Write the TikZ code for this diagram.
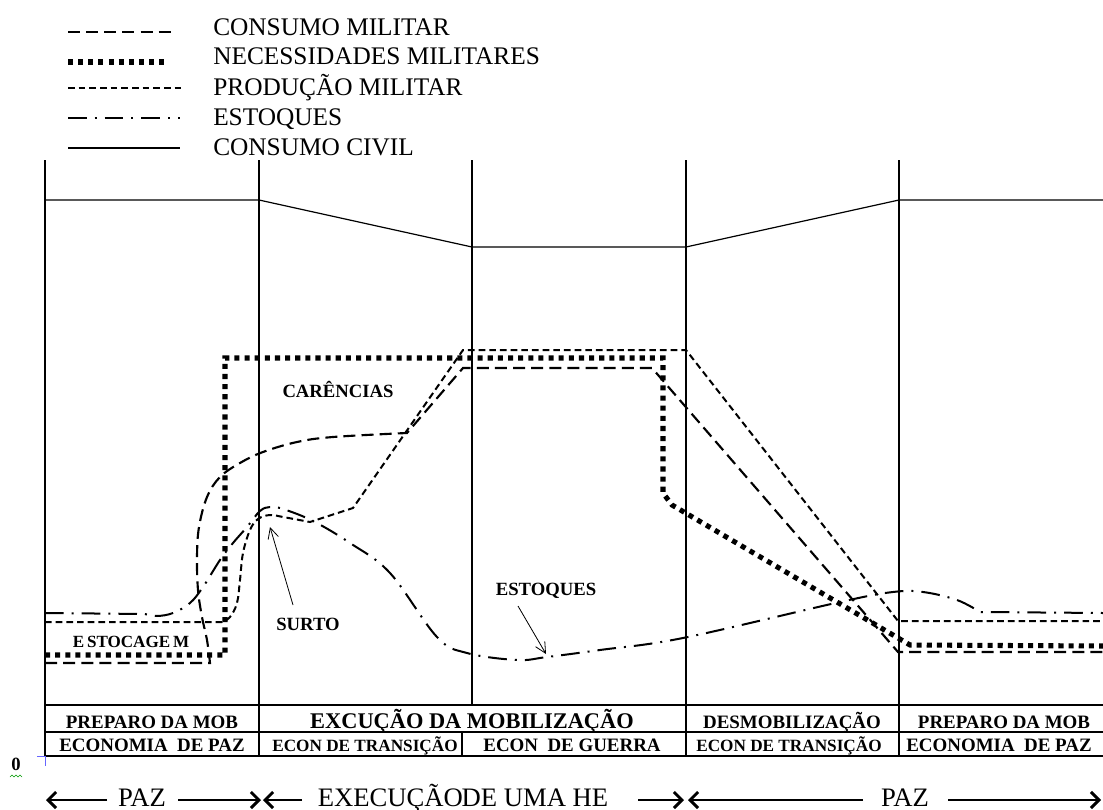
\documentclass[tikz,border=0pt]{standalone}
\usepackage{fontspec}
\setmainfont{Liberation Serif}
\usetikzlibrary{arrows.meta}
\tikzset{
 civ/.style={line width=0.9pt},
 cmil/.style={line width=1.6pt, dash pattern=on 9pt off 4.6pt},
 nec/.style={line width=3.8pt, dash pattern=on 3.8pt off 3.8pt},
 prod/.style={line width=1.5pt, dash pattern=on 5pt off 3pt},
 est/.style={line width=1.5pt, dash pattern=on 14pt off 6pt on 1.5pt off 6pt},
 gridline/.style={line width=0.8pt},
 leg/.style={anchor=base west, font=\fontsize{19}{21}\selectfont, inner sep=0pt},
 lbl/.style={anchor=base, font=\bfseries\fontsize{14}{16}\selectfont, inner sep=0pt},
 tb/.style={anchor=base, font=\bfseries\fontsize{14.2}{16}\selectfont, inner sep=0pt},
 tbbig/.style={anchor=base, font=\bfseries\fontsize{16.8}{18}\selectfont, inner sep=0pt},
 bot/.style={anchor=base, font=\fontsize{20}{22}\selectfont, inner sep=0pt},
 bigarr/.style={line width=2.2pt, -{Straight Barb[length=6pt,width=12pt]}},
 thinarr/.style={line width=0.6pt, -{Straight Barb[length=8pt,width=8pt]}},
}
\begin{document}
\begin{tikzpicture}[x=0.75pt,y=-0.75pt]
\useasboundingbox (0,0) rectangle (1103,810);
% legend
\draw[cmil] (68,32) -- (171,32);
\draw[nec] (68,62) -- (165,62);
\draw[prod] (68,88) -- (185,88);
\draw[est] (68,118) -- (180,118);
\draw[civ] (68,148) -- (180,148);
\node[leg] (l1) at (213,36) {CONSUMO MILITAR};
\node[leg] (l2) at (213,64) {NECESSIDADES MILITARES};
\node[leg] (l3) at (213,95) {PRODUÇÃO MILITAR};
\node[leg] (l4) at (213,125) {ESTOQUES};
\node[leg] (l5) at (213,155) {CONSUMO CIVIL};
% grid
\foreach \x in {45,259,686,899} \draw[gridline] (\x,160) -- (\x,756);
\draw[gridline] (472,160) -- (472,705);
\draw[gridline] (462,732) -- (462,756);
\foreach \y in {705,732,756} \draw[gridline] (45,\y) -- (1103,\y);
% civil consumption
\draw[civ] (45,200) -- (259,200) -- (472,247) -- (686,247) -- (899,200) -- (1103,200);
% necessidades militares
\draw[nec] (45,655) -- (225,655) -- (225,358) -- (663,358) -- (663,493) -- (672,505) -- (910,645) -- (1103,646);
% consumo militar
\draw[cmil] (45,663) -- (210,663) -- plot[smooth, tension=0.6] coordinates {(210,663) (207,640) (202,617) (198,590) (197,557) (199,527) (207,497) (220,477) (240,463) (263,452) (297,442) (333,437) (407,433)} -- (463,368) -- (652,368) -- (898,652) -- (1103,652);
% producao militar
\draw[prod] (45,622) -- (222,622) -- plot[smooth, tension=0.6] coordinates {(222,622) (230,617) (237,603) (240,580) (243,553) (250,530) (258,519) (270,515) (283,517) (310,522)} -- (353,508) -- (463,350) -- (686,350) -- (898,621) -- (1103,621);
% estoques
\draw[est] (45,613) -- (145,614) -- plot[smooth, tension=0.6] coordinates {(145,614) (157,616) (173,613) (190,603) (203,587) (220,560) (233,543) (247,527) (260,511) (270,507) (283,509) (313,521) (350,543) (390,573) (437,637) (467,653) (517,660) (547,657) (600,650) (683,638) (840,602) (893,592) (923,592) (957,600) (980,612)} -- (1103,613);
% labels
\node[lbl] (car) at (338,397) {CARÊNCIAS};
\node[lbl] (surto) at (308,630) {SURTO};
\node[lbl] (estq) at (546,595) {ESTOQUES};
\node[lbl, font=\bfseries\fontsize{12.8}{14}\selectfont] (estc) at (131,647) {E\,STOCAGE\,M};
\coordinate (surtoTip) at (270,527);
\coordinate (surtoTail) at (293,605);
\coordinate (estqTip) at (546,654);
\coordinate (estqTail) at (518,606);
\draw[thinarr] (surtoTail) -- (surtoTip);
\draw[thinarr] (estqTail) -- (estqTip);
% table
\node[tb] (t11) at (152,728) {PREPARO DA MOB};
\node[tbbig] (t12) at (472,728) {EXCUÇÃO DA MOBILIZAÇÃO};
\node[tb] (t13) at (792,728) {DESMOBILIZAÇÃO};
\node[tb] (t14) at (1004,728) {PREPARO DA MOB};
\node[tb] (t21) at (152,751) {ECONOMIA\ \ DE PAZ};
\node[tb, font=\bfseries\fontsize{12.9}{14}\selectfont] (t22) at (365,751) {ECON DE TRANSIÇÃO};
\node[tb] (t23) at (572,751) {ECON\ \ DE GUERRA};
\node[tb, font=\bfseries\fontsize{12.9}{14}\selectfont] (t24) at (789,751) {ECON DE TRANSIÇÃO};
\node[tb] (t25) at (999,751) {ECONOMIA\ \ DE PAZ};
% zero mark
\node[anchor=base, font=\bfseries\fontsize{14}{16}\selectfont, inner sep=0pt] (zero) at (16,770) {0};
\draw[green!60!black, line width=0.5pt] (10,777) -- (12,775) -- (14,777) -- (16,775) -- (18,777) -- (20,775) -- (22,777);
\draw[blue!60, line width=0.6pt] (37,756) -- (45,756) -- (45,766);
% bottom arrows
\node[bot] (paz1) at (142,806) {PAZ};
\node[bot] (exe) at (463,806) {EXECUÇÃO\kern-1pt DE UMA HE};
\node[bot] (paz2) at (905,806) {PAZ};
\coordinate (a1) at (107,800); \coordinate (a1h) at (46,800);
\coordinate (a2) at (178,800); \coordinate (a2h) at (261,800);
\coordinate (a3) at (302,800); \coordinate (a3h) at (263,800);
\coordinate (a4) at (638,800); \coordinate (a4h) at (684,800);
\coordinate (a5) at (863,800); \coordinate (a5h) at (688,800);
\coordinate (a6) at (948,800); \coordinate (a6h) at (1101,800);
\draw[bigarr] (a1) -- (a1h);
\draw[bigarr] (a2) -- (a2h);
\draw[bigarr] (a3) -- (a3h);
\draw[bigarr] (a4) -- (a4h);
\draw[bigarr] (a5) -- (a5h);
\draw[bigarr] (a6) -- (a6h);
\end{tikzpicture}
\end{document}
